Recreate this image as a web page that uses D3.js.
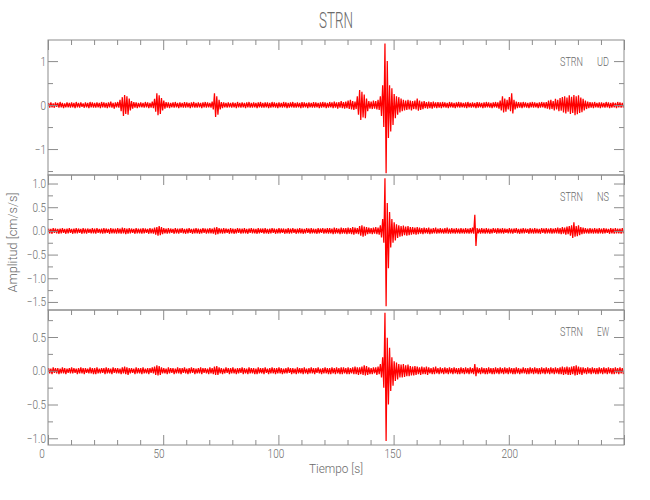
<!DOCTYPE html>
<html><head><meta charset="utf-8">
<script src="https://cdn.jsdelivr.net/npm/d3@7"></script>
<style>
body{margin:0;background:#fff}
text{font-family:Roboto,'Noto Sans','DejaVu Sans',sans-serif;font-weight:300;fill:#6a6a6a}
</style>
</head><body>
<svg id="chart" width="650" height="500"></svg>
<script>
// ---------------- data ----------------
const chartTitle = "STRN";
const station = "STRN";
const components = ["UD", "NS", "EW"];
const xLabel = "Tiempo [s]";
const yLabel = "Amplitud [cm/s/s]";
const sampleStart = 0;   // s
const sampleStep = 1;    // s per envelope bin
const xDomain = [0, 250];
const xMajorTicks = [0, 50, 100, 150, 200, 250];
const xMinorTicks = d3.range(0, 251, 10);

// envelope maxima / minima per 1-s bin (cm/s/s)
const udHi = [.05,.06,.04,.06,.05,.07,.05,.04,.06,.05, .06,.05,.07,.05,.06,.04,.06,.05,.07,.06, .05,.06,.05,.07,.06,.05,.06,.08,.05,.06,
 .07,.12,.18,.23,.2,.15,.09,.07,.06,.05, .06,.05,.07,.06,.05,.08,.14,.27,.22,.16, .1,.07,.06,.05,.06,.07,.05,.06,.05,.07,
 .06,.05,.06,.07,.05,.06,.05,.06,.07,.06, .05,.08,.27,.2,.12,.07,.06,.05,.06,.05, .06,.05,.07,.05,.06,.05,.06,.07,.05,.06,
 .05,.06,.07,.05,.06,.06,.05,.07,.06,.05, .06,.05,.07,.06,.05,.06,.07,.05,.06,.05, .07,.06,.05,.06,.05,.07,.06,.05,.06,.07,
 .06,.05,.07,.06,.08,.06,.07,.09,.07,.08, .1,.12,.09,.08,.2,.34,.3,.24,.15,.09, .08,.1,.09,.12,.2,.45,1.4,1.0,.45,.38,
 .25,.2,.18,.15,.12,.1,.12,.1,.09,.1, .15,.1,.08,.09,.07,.08,.07,.08,.06,.07, .06,.07,.06,.05,.07,.06,.05,.06,.07,.06,
 .05,.06,.07,.05,.06,.05,.07,.06,.05,.06, .07,.06,.05,.06,.07,.06,.1,.2,.15,.12, .18,.27,.12,.08,.07,.06,.07,.06,.05,.06,
 .07,.06,.05,.06,.07,.06,.07,.1,.12,.09, .14,.12,.16,.18,.2,.17,.22,.19,.23,.2, .22,.17,.14,.1,.08,.07,.06,.07,.05,.06,
 .06,.05,.07,.06,.05,.06,.05,.07,.06,.05];
const udLo = [-.06,-.05,-.06,-.04,-.06,-.05,-.07,-.05,-.05,-.06, -.05,-.07,-.05,-.06,-.04,-.06,-.05,-.07,-.05,-.06, -.06,-.05,-.07,-.05,-.06,-.07,-.05,-.06,-.08,-.05,
 -.06,-.14,-.25,-.2,-.22,-.12,-.08,-.06,-.07,-.05, -.05,-.06,-.05,-.07,-.06,-.07,-.15,-.23,-.2,-.12, -.08,-.06,-.07,-.05,-.06,-.05,-.07,-.05,-.06,-.06,
 -.05,-.07,-.05,-.06,-.06,-.05,-.07,-.05,-.06,-.05, -.06,-.1,-.27,-.22,-.1,-.07,-.05,-.06,-.05,-.06, -.05,-.07,-.05,-.06,-.05,-.07,-.05,-.06,-.06,-.05,
 -.07,-.05,-.06,-.06,-.05,-.07,-.06,-.05,-.06,-.07, -.05,-.06,-.05,-.07,-.06,-.05,-.06,-.06,-.05,-.07, -.06,-.05,-.07,-.05,-.06,-.06,-.05,-.07,-.06,-.05,
 -.07,-.06,-.05,-.07,-.06,-.08,-.06,-.07,-.08,-.07, -.09,-.1,-.11,-.09,-.22,-.34,-.28,-.3,-.14,-.08, -.09,-.08,-.1,-.11,-.25,-.5,-1.55,-.75,-.6,-.45,
 -.3,-.22,-.17,-.14,-.12,-.11,-.1,-.12,-.09,-.1, -.13,-.11,-.09,-.07,-.08,-.07,-.08,-.06,-.07,-.06, -.07,-.05,-.06,-.07,-.05,-.06,-.07,-.05,-.06,-.05,
 -.06,-.07,-.05,-.06,-.05,-.07,-.06,-.05,-.07,-.06, -.05,-.06,-.07,-.05,-.06,-.08,-.12,-.17,-.15,-.1, -.14,-.19,-.1,-.07,-.06,-.07,-.05,-.06,-.07,-.05,
 -.06,-.05,-.07,-.06,-.05,-.07,-.08,-.1,-.09,-.12, -.1,-.14,-.13,-.17,-.19,-.15,-.2,-.18,-.23,-.21, -.18,-.16,-.12,-.09,-.07,-.06,-.07,-.05,-.06,-.07,
 -.05,-.06,-.05,-.07,-.06,-.05,-.07,-.05,-.06,-.06];

const nsHi = [.05,.04,.06,.05,.04,.05,.06,.04,.05,.06, .04,.05,.06,.05,.04,.06,.05,.05,.04,.06, .05,.06,.04,.05,.06,.05,.04,.06,.05,.05,
 .06,.05,.07,.06,.05,.06,.05,.04,.06,.05, .05,.06,.05,.04,.06,.05,.07,.08,.1,.08, .06,.05,.06,.05,.04,.06,.05,.05,.06,.04,
 .05,.06,.04,.05,.06,.05,.04,.06,.05,.05, .06,.05,.07,.08,.06,.05,.06,.05,.04,.06, .05,.04,.06,.05,.05,.06,.04,.05,.06,.05,
 .04,.06,.05,.05,.06,.04,.05,.06,.05,.04, .06,.05,.05,.04,.06,.05,.06,.04,.05,.06, .05,.04,.06,.05,.06,.05,.04,.06,.05,.06,
 .05,.06,.06,.05,.07,.06,.05,.07,.06,.06, .07,.06,.08,.07,.06,.1,.12,.09,.08,.07, .06,.07,.08,.07,.12,.25,1.11,.59,.4,.25,
 .18,.14,.12,.1,.11,.09,.1,.08,.08,.07, .08,.07,.06,.07,.06,.07,.05,.06,.07,.05, .06,.05,.06,.07,.05,.06,.05,.06,.05,.06,
 .05,.06,.05,.06,.07,.34,.06,.05,.06,.05, .06,.05,.04,.06,.05,.06,.05,.06,.05,.04, .06,.05,.05,.06,.04,.05,.06,.05,.04,.06,
 .05,.06,.05,.04,.06,.05,.06,.05,.06,.05, .06,.07,.06,.08,.07,.09,.1,.12,.18,.1, .12,.08,.07,.06,.05,.06,.05,.06,.05,.06,
 .05,.06,.05,.04,.06,.05,.06,.05,.05,.06];
const nsLo = [-.05,-.06,-.04,-.05,-.06,-.05,-.04,-.06,-.05,-.04, -.06,-.05,-.05,-.04,-.06,-.05,-.06,-.04,-.05,-.05, -.06,-.04,-.05,-.06,-.05,-.04,-.06,-.05,-.05,-.06,
 -.05,-.06,-.05,-.07,-.06,-.05,-.04,-.06,-.05,-.05, -.06,-.05,-.04,-.06,-.05,-.06,-.08,-.1,-.09,-.07, -.05,-.06,-.05,-.04,-.06,-.05,-.06,-.04,-.05,-.06,
 -.05,-.04,-.06,-.05,-.05,-.06,-.05,-.04,-.06,-.05, -.05,-.06,-.08,-.07,-.05,-.06,-.05,-.04,-.06,-.05, -.06,-.05,-.04,-.06,-.05,-.05,-.06,-.04,-.05,-.05,
 -.06,-.05,-.04,-.06,-.05,-.06,-.05,-.04,-.06,-.05, -.05,-.04,-.06,-.05,-.06,-.05,-.04,-.06,-.05,-.05, -.06,-.05,-.04,-.06,-.05,-.05,-.06,-.05,-.04,-.06,
 -.05,-.06,-.05,-.07,-.06,-.05,-.07,-.06,-.06,-.07, -.06,-.07,-.08,-.06,-.07,-.1,-.12,-.1,-.07,-.06, -.07,-.06,-.07,-.08,-.14,-.25,-1.59,-.79,-.35,-.25,
 -.2,-.15,-.12,-.11,-.09,-.1,-.09,-.08,-.07,-.08, -.07,-.06,-.07,-.05,-.06,-.07,-.06,-.05,-.06,-.05, -.05,-.06,-.05,-.06,-.06,-.05,-.06,-.05,-.06,-.05,
 -.06,-.05,-.06,-.05,-.06,-.32,-.05,-.06,-.05,-.06, -.05,-.06,-.05,-.04,-.06,-.05,-.05,-.06,-.04,-.05, -.05,-.06,-.04,-.05,-.06,-.05,-.05,-.04,-.06,-.05,
 -.06,-.05,-.05,-.06,-.04,-.06,-.05,-.05,-.06,-.05, -.05,-.06,-.07,-.06,-.08,-.07,-.1,-.15,-.12,-.11, -.09,-.07,-.06,-.05,-.06,-.05,-.06,-.05,-.06,-.05,
 -.06,-.05,-.04,-.06,-.05,-.06,-.05,-.05,-.06,-.05];

const ewHi = [.04,.03,.05,.04,.04,.03,.05,.04,.03,.04, .05,.04,.03,.04,.05,.04,.04,.03,.05,.04, .04,.05,.03,.04,.04,.05,.04,.03,.05,.04,
 .04,.03,.05,.06,.05,.04,.04,.03,.05,.04, .04,.05,.03,.04,.04,.05,.06,.08,.07,.05, .04,.03,.05,.04,.04,.03,.05,.04,.04,.05,
 .03,.04,.05,.04,.03,.04,.05,.04,.04,.03, .05,.04,.06,.07,.05,.04,.03,.05,.04,.04, .05,.03,.04,.04,.05,.04,.03,.05,.04,.04,
 .03,.05,.04,.04,.05,.03,.04,.05,.04,.04, .05,.04,.03,.04,.05,.04,.04,.03,.05,.04, .04,.05,.03,.04,.05,.04,.04,.05,.03,.04,
 .05,.04,.04,.05,.04,.05,.04,.05,.05,.04, .05,.04,.05,.06,.05,.05,.06,.08,.07,.05, .04,.05,.05,.06,.1,.2,.86,.49,.34,.2,
 .14,.12,.1,.09,.1,.08,.09,.07,.06,.07, .06,.05,.06,.05,.06,.05,.04,.05,.06,.04, .05,.04,.05,.04,.05,.04,.05,.04,.04,.05,
 .04,.05,.04,.05,.04,.1,.05,.04,.05,.04, .04,.05,.04,.04,.05,.04,.05,.04,.05,.04, .05,.04,.04,.05,.04,.03,.05,.04,.04,.05,
 .04,.05,.04,.04,.05,.04,.05,.04,.05,.04, .05,.04,.05,.06,.05,.06,.05,.06,.07,.08, .06,.05,.05,.04,.05,.04,.05,.04,.04,.05,
 .04,.05,.04,.05,.04,.04,.05,.04,.05,.04];
const ewLo = [-.04,-.05,-.03,-.04,-.05,-.04,-.04,-.05,-.03,-.04, -.04,-.03,-.05,-.04,-.04,-.05,-.03,-.04,-.04,-.05, -.05,-.04,-.04,-.03,-.05,-.04,-.04,-.05,-.03,-.04,
 -.04,-.05,-.04,-.05,-.06,-.04,-.03,-.05,-.04,-.04, -.05,-.04,-.04,-.05,-.03,-.04,-.06,-.07,-.06,-.04, -.04,-.05,-.04,-.03,-.05,-.04,-.04,-.05,-.03,-.04,
 -.05,-.04,-.03,-.05,-.04,-.04,-.05,-.03,-.04,-.05, -.04,-.05,-.06,-.06,-.04,-.05,-.04,-.03,-.05,-.04, -.04,-.05,-.04,-.03,-.05,-.04,-.05,-.04,-.04,-.05,
 -.05,-.04,-.04,-.05,-.03,-.05,-.04,-.04,-.05,-.04, -.04,-.05,-.04,-.04,-.03,-.05,-.04,-.05,-.04,-.04, -.05,-.04,-.05,-.04,-.04,-.05,-.03,-.04,-.05,-.04,
 -.04,-.05,-.05,-.04,-.05,-.04,-.05,-.05,-.04,-.05, -.05,-.04,-.05,-.05,-.06,-.05,-.06,-.07,-.06,-.05, -.05,-.04,-.06,-.05,-.1,-.25,-1.04,-.5,-.3,-.22,
 -.15,-.13,-.1,-.1,-.09,-.08,-.08,-.07,-.07,-.06, -.05,-.06,-.05,-.05,-.06,-.04,-.05,-.05,-.04,-.05, -.04,-.05,-.04,-.05,-.04,-.05,-.04,-.05,-.05,-.04,
 -.05,-.04,-.05,-.04,-.05,-.08,-.04,-.05,-.04,-.05, -.05,-.04,-.05,-.05,-.04,-.05,-.04,-.05,-.04,-.05, -.04,-.05,-.05,-.04,-.05,-.04,-.04,-.05,-.05,-.04,
 -.05,-.04,-.05,-.05,-.04,-.05,-.04,-.05,-.04,-.05, -.04,-.05,-.05,-.06,-.05,-.06,-.06,-.05,-.07,-.06, -.05,-.06,-.04,-.05,-.04,-.05,-.04,-.05,-.05,-.04,
 -.05,-.04,-.05,-.04,-.05,-.05,-.04,-.05,-.04,-.05];

// per-panel y axes
const udDomain = [-1.59, 1.48], nsDomain = [-1.67, 1.18], ewDomain = [-1.10, 0.90];
const udMajor = [-1, 0, 1], udMinor = [-1.5, -0.5, 0.5];
const nsMajor = [-1.5, -1.0, -0.5, 0, 0.5, 1.0], nsMinor = [-1.25, -0.75, -0.25, 0.25, 0.75];
const ewMajor = [-1.0, -0.5, 0, 0.5], ewMinor = [-0.75, -0.25, 0.25, 0.75];

// ---------------- layout ----------------
const svg = d3.select("#chart");
const left = 48, right = 624, top0 = 40, panelH = 135;
const lineColor = "#ff0000", axisColor = "#8c8c8c";

const x = d3.scaleLinear().domain(xDomain).range([left, right]);

function condense(sel, f) {
  sel.each(function () {
    const w = this.getComputedTextLength();
    if (w > 0) { this.setAttribute("textLength", w * f); this.setAttribute("lengthAdjust", "spacingAndGlyphs"); }
  });
}
function fitText(sel, w) {
  sel.attr("textLength", w).attr("lengthAdjust", "spacingAndGlyphs");
}

const panels = [
  {comp: components[0], hi: udHi, lo: udLo, domain: udDomain, major: udMajor, minor: udMinor, fmt: d3.format("d")},
  {comp: components[1], hi: nsHi, lo: nsLo, domain: nsDomain, major: nsMajor, minor: nsMinor, fmt: d3.format(".1f")},
  {comp: components[2], hi: ewHi, lo: ewLo, domain: ewDomain, major: ewMajor, minor: ewMinor, fmt: d3.format(".1f")}
];

function styleAxis(g) {
  g.selectAll("line,path").attr("stroke", axisColor).attr("stroke-width", 1);
  g.selectAll("text").attr("fill", "#6a6a6a").style("font-size", "12.5px").call(condense, 0.8);
}

panels.forEach((p, k) => {
  const yTop = top0 + k * panelH, yBot = yTop + panelH;
  const y = d3.scaleLinear().domain(p.domain).range([yBot, yTop]);

  const clipId = "clip" + k;
  svg.append("clipPath").attr("id", clipId).append("rect")
    .attr("x", left).attr("y", yTop).attr("width", right - left).attr("height", panelH);

  // trace: max then min of every bin, as one continuous line
  const pts = [];
  p.hi.forEach((h, i) => {
    const t = sampleStart + i * sampleStep;
    pts.push([t + 0.25 * sampleStep, h]);
    pts.push([t + 0.75 * sampleStep, p.lo[i]]);
  });
  svg.append("path").datum(pts)
    .attr("clip-path", `url(#${clipId})`)
    .attr("fill", "none").attr("stroke", lineColor).attr("stroke-width", 1.25)
    .attr("stroke-linejoin", "miter").attr("stroke-miterlimit", 2)
    .attr("d", d3.line().x(d => x(d[0])).y(d => y(d[1])));

  // frame
  svg.append("rect").attr("x", left).attr("y", yTop).attr("width", right - left).attr("height", panelH)
    .attr("fill", "none").attr("stroke", axisColor);

  // left axis (labels) + minor
  svg.append("g").attr("transform", `translate(${left},0)`)
    .call(d3.axisLeft(y).tickValues(p.major).tickSize(-10).tickPadding(2).tickFormat(p.fmt))
    .call(g => g.select(".domain").remove()).call(styleAxis);
  svg.append("g").attr("transform", `translate(${left},0)`)
    .call(d3.axisLeft(y).tickValues(p.minor).tickSize(-5).tickFormat(""))
    .call(g => g.select(".domain").remove()).call(styleAxis);
  // right axis
  svg.append("g").attr("transform", `translate(${right},0)`)
    .call(d3.axisRight(y).tickValues(p.major).tickSize(-10).tickFormat(""))
    .call(g => g.select(".domain").remove()).call(styleAxis);
  svg.append("g").attr("transform", `translate(${right},0)`)
    .call(d3.axisRight(y).tickValues(p.minor).tickSize(-5).tickFormat(""))
    .call(g => g.select(".domain").remove()).call(styleAxis);
  // top x ticks of each panel
  svg.append("g").attr("transform", `translate(0,${yTop})`)
    .call(d3.axisTop(x).tickValues(xMajorTicks).tickSize(-10).tickFormat(""))
    .call(g => g.select(".domain").remove()).call(styleAxis);
  svg.append("g").attr("transform", `translate(0,${yTop})`)
    .call(d3.axisTop(x).tickValues(xMinorTicks.filter(v => !xMajorTicks.includes(v))).tickSize(-5).tickFormat(""))
    .call(g => g.select(".domain").remove()).call(styleAxis);

  // component label
  svg.append("text").attr("x", 560).attr("y", yTop + 26).style("font-size", "13px").text(station).call(fitText, 23);
  svg.append("text").attr("x", 597).attr("y", yTop + 26).style("font-size", "13px").text(p.comp).call(fitText, 12);

  if (k === panels.length - 1) {
    svg.append("g").attr("transform", `translate(0,${yBot})`)
      .call(d3.axisBottom(x).tickValues(xMajorTicks.slice(0, -1)).tickSize(-10).tickPadding(4).tickFormat(d3.format("d")))
      .call(g => g.select(".domain").remove()).call(styleAxis)
      .call(g => g.selectAll("text").attr("dx", d => -6.5 + d * 0.035));
    svg.append("g").attr("transform", `translate(0,${yBot})`)
      .call(d3.axisBottom(x).tickValues(xMinorTicks.filter(v => !xMajorTicks.includes(v))).tickSize(-5).tickFormat(""))
      .call(g => g.select(".domain").remove()).call(styleAxis);
    svg.append("g").attr("transform", `translate(0,${yBot})`)
      .call(d3.axisBottom(x).tickValues([250]).tickSize(-10).tickFormat(""))
      .call(g => g.select(".domain").remove()).call(styleAxis);
  }
});

// titles
svg.append("text").attr("x", (left + right) / 2).attr("y", 28).attr("text-anchor", "middle")
  .style("font-size", "22px").text(chartTitle).call(fitText, 34);
svg.append("text").attr("x", (left + right) / 2).attr("y", 473).attr("text-anchor", "middle")
  .style("font-size", "13px").text(xLabel).call(fitText, 54);
svg.append("text").attr("transform", `translate(17,${top0 + 1.5 * panelH}) rotate(-90)`)
  .attr("text-anchor", "middle").style("font-size", "13px").text(yLabel).call(fitText, 100);
</script>
</body></html>
